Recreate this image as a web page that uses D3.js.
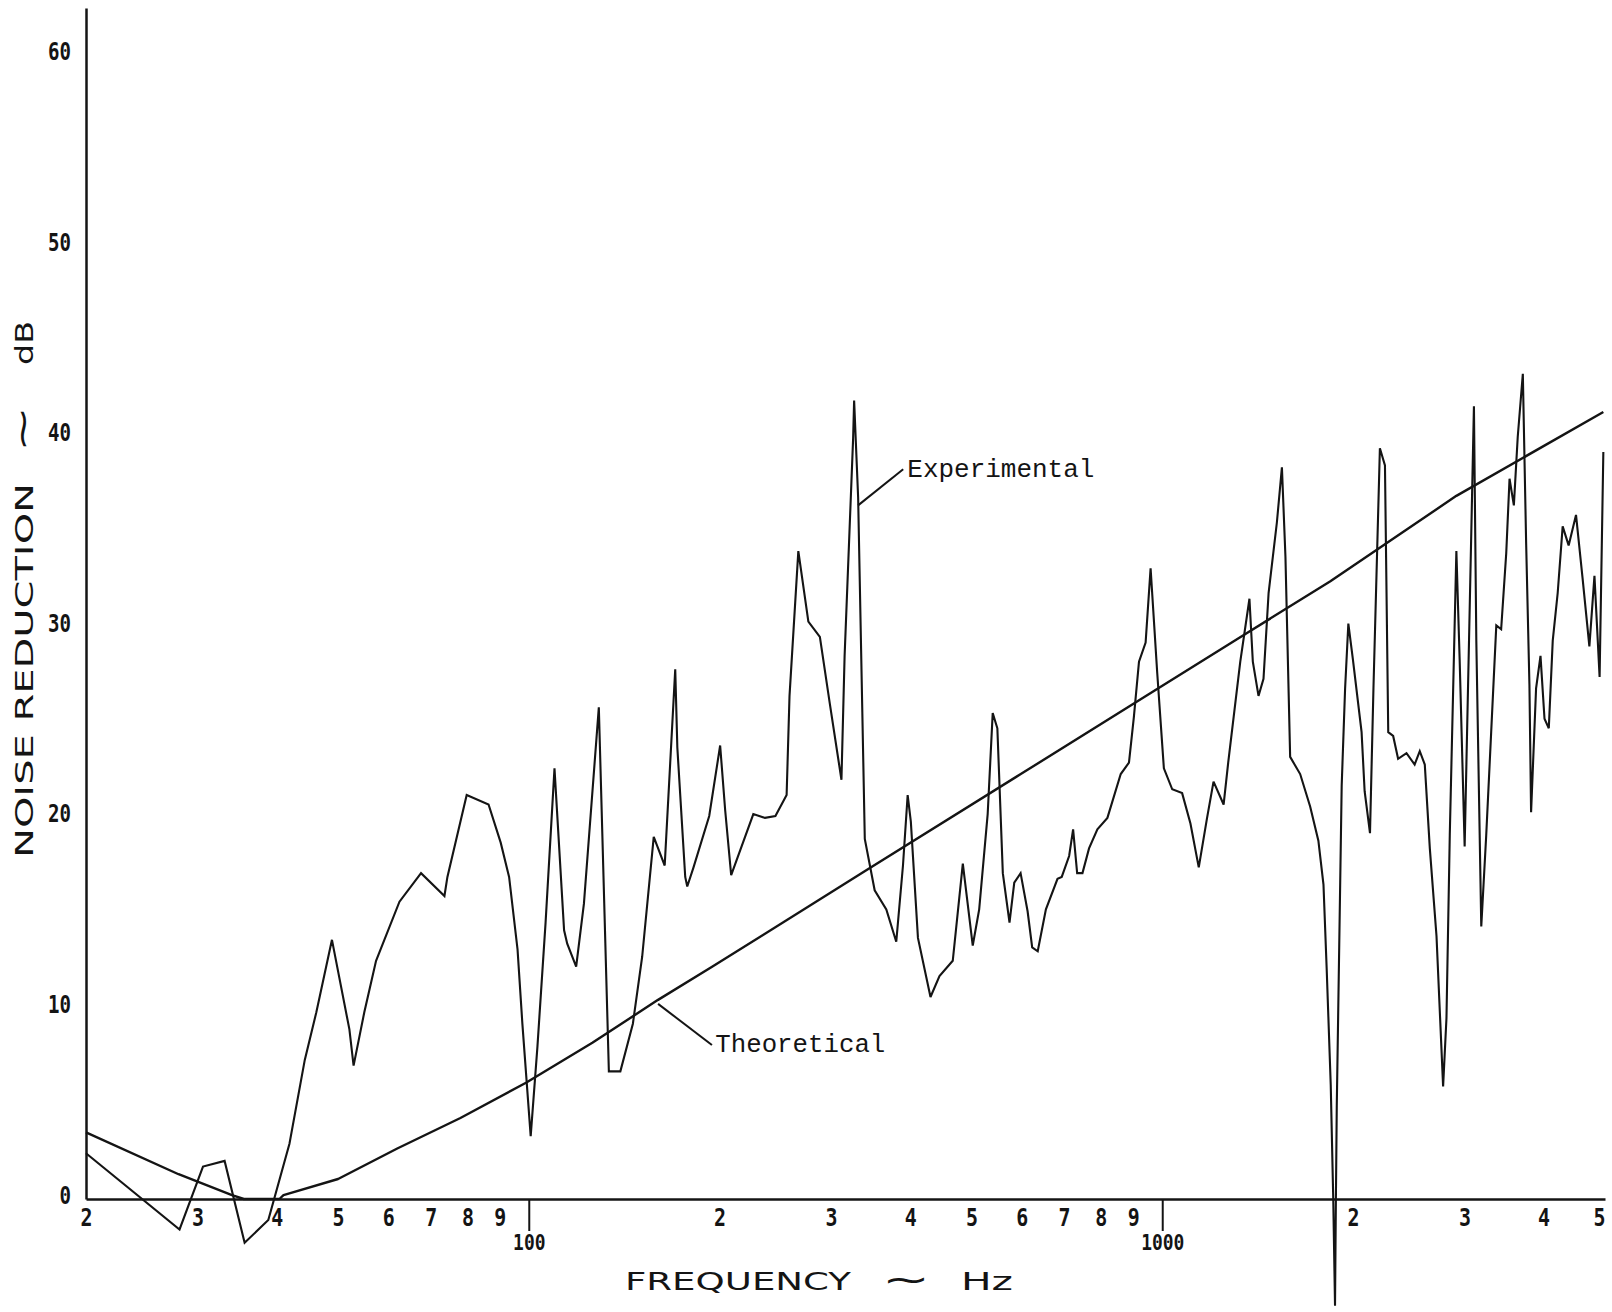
<!DOCTYPE html>
<html>
<head>
<meta charset="utf-8">
<script src="https://cdn.jsdelivr.net/npm/d3@7"></script>
<style>
  html, body { margin: 0; padding: 0; background: #ffffff; }
  svg { display: block; }
</style>
</head>
<body>
<svg id="chart" width="1612" height="1312"></svg>
<script>
// Noise reduction versus frequency: measured spectrum and predicted curve

// Experimental (measured) noise reduction, Hz / dB
const experimentalFreq = [
  20, 28.1, 30.6, 33.1, 35.6, 38.8, 41.9, 44.3, 46.2, 48.9, 52.1, 52.9, 55.0, 57.4, 62.5,
  67.6, 73.6, 74.4, 79.8, 86.4, 90.3, 93.1, 96.0, 97.7, 100.7, 103.2, 106.3, 109.8, 113.7, 115.0,
  118.8, 122.2, 129.0, 133.8, 139.5, 146.0, 151, 157.5, 163.9, 170.3, 171.6, 176.6, 177.9, 182,
  192.7, 200.5, 204.2, 208.7, 226.2, 236, 245.1, 255.3, 258, 266.4, 276.3, 288.1, 298.7, 311.6,
  315.2, 325.1, 326.3, 331.1, 339.2, 351.6, 366.8, 380.3, 389.7, 396.4, 401, 411.5, 430.7, 445,
  467, 484.4, 502.2, 514.1, 530.2, 540, 549.2, 560.2, 574, 584, 597.6,
  613, 623.3, 636, 655.2, 683.4, 694, 712.9, 723.3, 734, 748.3, 766.4, 790, 819.3, 860, 886.1,
  902.1, 919, 941.4, 958.6, 982, 1006, 1037, 1075, 1108, 1142, 1177, 1205, 1250, 1271, 1328,
  1373, 1390, 1419, 1445, 1472, 1517, 1545, 1565, 1592, 1651, 1712, 1764, 1797, 1818,
  1845, 1862, 1874, 1880, 1886, 1920, 1944, 1967, 2000, 2064, 2087, 2128, 2155, 2206, 2247,
  2274, 2315, 2357, 2430, 2503, 2550, 2597, 2645, 2710, 2776, 2810, 2844, 2913, 2948, 3002,
  3050, 3105, 3132, 3189, 3247, 3368, 3428, 3492, 3534, 3590, 3641, 3709, 3754, 3799, 3822,
  3892, 3955, 4013, 4076, 4135, 4210, 4287, 4381, 4500, 4608, 4724, 4812, 4903, 4970
];
const experimentalDb = [
  2.4, -1.6, 1.7, 2.0, -2.3, -1.1, 2.9, 7.3, 9.8, 13.6, 8.9, 7.0, 9.8, 12.5, 15.6,
  17.1, 15.9, 16.9, 21.2, 20.7, 18.7, 16.9, 13.1, 9.2, 3.3, 8.0, 14.5, 22.6, 14.1, 13.4,
  12.2, 15.5, 25.8, 6.7, 6.7, 9.2, 12.7, 19.0, 17.5, 27.8, 23.7, 16.9, 16.4, 17.4,
  20.1, 23.8, 20.4, 17.0, 20.2, 20.0, 20.1, 21.2, 26.4, 34.0, 30.3, 29.5, 26.0, 22.0,
  28.5, 39.9, 41.9, 36.8, 18.9, 16.2, 15.2, 13.5, 17.5, 21.2, 19.8, 13.7, 10.6, 11.7,
  12.5, 17.6, 13.3, 15.2, 20.2, 25.5, 24.7, 17.1, 14.5, 16.6, 17.1,
  15.1, 13.2, 13.0, 15.2, 16.8, 16.9, 18.0, 19.4, 17.1, 17.1, 18.4, 19.4, 20.0, 22.3, 22.9,
  25.3, 28.2, 29.2, 33.1, 27.6, 22.6, 21.5, 21.3, 19.7, 17.4, 20.0, 21.9, 20.7, 22.9, 28.2,
  31.5, 28.2, 26.4, 27.3, 31.8, 35.5, 38.4, 33.7, 23.2, 22.3, 20.6, 18.8, 16.5, 12.1,
  6.0, 0.0, -5.6, 0.0, 4.9, 21.7, 26.8, 30.2, 28.3, 24.5, 21.4, 19.2, 26.8, 39.4, 38.5,
  24.5, 24.3, 23.1, 23.4, 22.8, 23.5, 22.8, 18.4, 13.8, 5.9, 9.5, 19.1, 34.0, 28.3, 18.5,
  29.3, 41.6, 29.3, 14.3, 19.1, 30.1, 29.9, 33.9, 37.8, 36.4, 40.0, 43.3, 34.4, 27.0, 20.3,
  26.8, 28.5, 25.2, 24.7, 29.3, 31.8, 35.3, 34.3, 35.9, 32.6, 29.0, 32.7, 27.4, 39.2
];

// Theoretical (predicted) noise reduction, Hz / dB
const theoreticalFreq = [20, 28, 34, 35.5, 40.4, 41, 50, 62, 78, 99, 126, 160, 195, 343, 598, 902, 1345, 1840, 2913, 4970];
const theoreticalDb   = [3.5, 1.3, 0.2, 0, 0, 0.2, 1.05, 2.65, 4.25, 6.1, 8.2, 10.45, 12.2, 17.3, 22.3, 26.0, 29.6, 32.4, 36.9, 41.3];

// Axis ticks and labels
const yTickValues = [0, 10, 20, 30, 40, 50, 60];
const xDigitTicks = [20, 30, 40, 50, 60, 70, 80, 90, 200, 300, 400, 500, 600, 700, 800, 900, 2000, 3000, 4000, 5000];
const xDigitLabels = ["2", "3", "4", "5", "6", "7", "8", "9", "2", "3", "4", "5", "6", "7", "8", "9", "2", "3", "4", "5"];
const xDecadeTicks = [100, 1000];
const xDecadeLabels = ["100", "1000"];

// Curve labels with leader lines: [freq, dB] at the line end and the text anchor
const curveNotes = [
  { text: "Experimental", from: [331, 36.4], to: [390, 38.3], at: [396, 37.9], len: 187 },
  { text: "Theoretical",  from: [160, 10.24], to: [194.6, 8.08], at: [197, 7.7], len: 170 }
];

const INK = "#141414";
const svg = d3.select("#chart");

const x = d3.scaleLog().domain([20, 5000]).range([86, 1605]);
const y = d3.scaleLinear().domain([0, 62.5]).range([1199, 8]);

const tickFont = "'DejaVu Sans Mono', monospace";

// ---- x axis: single digit labels between decades
const gx = svg.append("g")
  .attr("transform", `translate(0,${y(0)})`)
  .call(d3.axisBottom(x)
    .tickValues(xDigitTicks)
    .tickSize(0)
    .tickSizeOuter(0)
    .tickFormat((d, i) => xDigitLabels[i]));
gx.select(".domain").attr("stroke", INK).attr("stroke-width", 2.5);
gx.selectAll(".tick text")
  .attr("dy", null)
  .attr("y", 27)
  .attr("fill", INK)
  .attr("font-family", tickFont)
  .attr("font-weight", "bold")
  .attr("font-size", 25)
  .attr("text-anchor", (d, i) => i === xDigitTicks.length - 1 ? "end" : "middle")
  .attr("textLength", 12)
  .attr("lengthAdjust", "spacingAndGlyphs");

// ---- x axis: decade ticks 100 and 1000
const gd = svg.append("g")
  .attr("transform", `translate(0,${y(0)})`)
  .call(d3.axisBottom(x)
    .tickValues(xDecadeTicks)
    .tickSize(32)
    .tickPadding(6)
    .tickFormat((d, i) => xDecadeLabels[i]));
gd.select(".domain").remove();
gd.selectAll(".tick line").attr("stroke", INK).attr("stroke-width", 2);
gd.selectAll(".tick text")
  .attr("dy", null)
  .attr("y", 51)
  .attr("fill", INK)
  .attr("font-family", tickFont)
  .attr("font-weight", "bold")
  .attr("font-size", 22)
  .attr("textLength", (d, i) => xDecadeLabels[i].length * 10.8)
  .attr("lengthAdjust", "spacingAndGlyphs");

// ---- y axis
const gy = svg.append("g")
  .attr("transform", `translate(${x(20)},0)`)
  .call(d3.axisLeft(y)
    .tickValues(yTickValues)
    .tickSize(0)
    .tickSizeOuter(0)
    .tickPadding(15)
    .tickFormat(d3.format("d")));
gy.select(".domain").attr("stroke", INK).attr("stroke-width", 2.5);
gy.selectAll(".tick text")
  .attr("dy", "0.16em")
  .attr("fill", INK)
  .attr("font-family", tickFont)
  .attr("font-weight", "bold")
  .attr("font-size", 25)
  .attr("textLength", d => String(d).length * 11.5)
  .attr("lengthAdjust", "spacingAndGlyphs");

// ---- series
const line = d3.line()
  .x(d => x(d[0]))
  .y(d => y(d[1]));

const theoretical = d3.zip(theoreticalFreq, theoreticalDb);
const experimental = d3.zip(experimentalFreq, experimentalDb);

svg.append("path")
  .datum(theoretical)
  .attr("fill", "none")
  .attr("stroke", INK)
  .attr("stroke-width", 2.4)
  .attr("stroke-linejoin", "round")
  .attr("d", line);

svg.append("path")
  .datum(experimental)
  .attr("fill", "none")
  .attr("stroke", INK)
  .attr("stroke-width", 2.1)
  .attr("stroke-linejoin", "miter")
  .attr("stroke-miterlimit", 3)
  .attr("d", line);

// ---- curve labels
const notes = svg.append("g");
curveNotes.forEach(n => {
  notes.append("line")
    .attr("x1", x(n.from[0])).attr("y1", y(n.from[1]))
    .attr("x2", x(n.to[0])).attr("y2", y(n.to[1]))
    .attr("stroke", INK).attr("stroke-width", 2);
  notes.append("text")
    .attr("x", x(n.at[0]))
    .attr("y", y(n.at[1]))
    .attr("font-family", "'Liberation Mono', 'DejaVu Sans Mono', monospace")
    .attr("font-size", 25)
    .attr("fill", INK)
    .attr("textLength", n.len)
    .attr("lengthAdjust", "spacingAndGlyphs")
    .text(n.text);
});

// ---- axis titles
const titleFont = "'DejaVu Sans', sans-serif";

function titlePiece(g, str, x0, len, size, baseline) {
  g.append("text")
    .attr("x", x0)
    .attr("y", baseline)
    .attr("font-family", titleFont)
    .attr("font-size", size)
    .attr("fill", INK)
    .attr("textLength", len)
    .attr("lengthAdjust", "spacingAndGlyphs")
    .text(str);
}

const xTitle = svg.append("g");
titlePiece(xTitle, "FREQUENCY", 625, 226, 25, 1290);
titlePiece(xTitle, "~", 882, 48, 34, 1291);
titlePiece(xTitle, "Hz", 961, 52, 25, 1290);

const yTitle = svg.append("g").attr("transform", "translate(23,0) rotate(-90)");
titlePiece(yTitle, "NOISE REDUCTION", -858, 375, 25, 10);
titlePiece(yTitle, "~", -452, 46, 34, 11);
titlePiece(yTitle, "dB", -365, 44, 25, 10);
</script>
</body>
</html>
